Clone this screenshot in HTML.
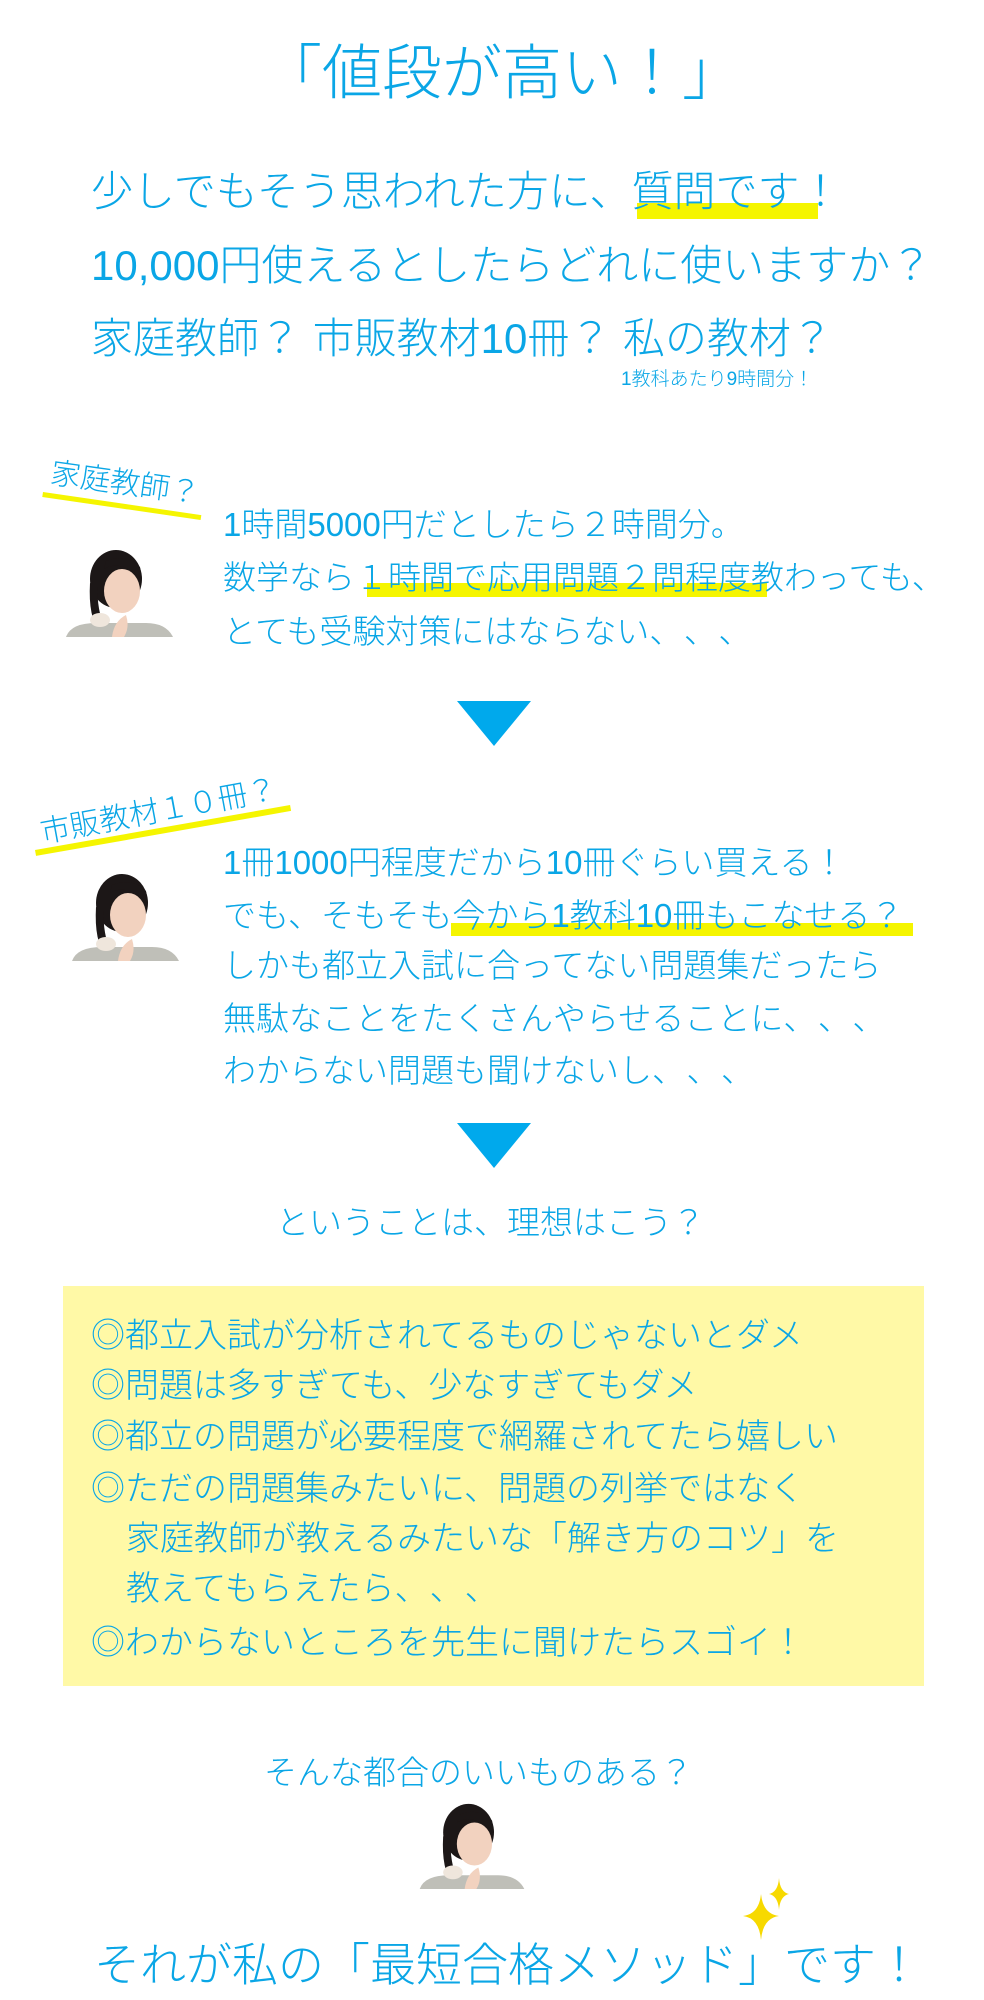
<!DOCTYPE html>
<html><head><meta charset="utf-8"><style>
html,body{margin:0;padding:0;background:#fff}
body{width:984px;height:2000px;position:relative;overflow:hidden;font-family:"Liberation Sans","Noto Sans CJK JP",sans-serif;color:#0aa6e6;font-weight:300}
.t{position:absolute;white-space:nowrap}
.hl{position:absolute;background:#f5f500}
.tri{position:absolute;width:0;height:0;border-left:37px solid transparent;border-right:37px solid transparent;border-top:45px solid #00a9ec}
svg.w{position:absolute}
.p{letter-spacing:18px}
</style></head><body>

<div class="t" style="left:262px;top:42px;font-size:60px;line-height:64px">「値段が高い！」</div>

<div class="hl" style="left:637px;top:203px;width:181px;height:16px"></div>
<div class="t" style="left:91px;top:170px;font-size:42px;line-height:44px">少しでもそう思われた方に、質問です！</div>
<div class="t" style="left:91px;top:244px;font-size:42px;line-height:44px">10,000円使えるとしたらどれに使いますか？</div>
<div class="t" style="left:91px;top:317px;font-size:42px;line-height:44px">家庭教師？ 市販教材10冊？ 私の教材？</div>
<div class="t" style="left:621px;top:369px;font-size:19px;line-height:22px">1教科あたり9時間分！</div>

<div class="hl" style="left:43px;top:492px;width:160px;height:5px;transform:rotate(8.3deg);transform-origin:0 0"></div>
<div class="t" style="left:53px;top:458px;font-size:30px;line-height:32px;transform:rotate(8deg);transform-origin:0 0">家庭教師？</div>

<svg class="w" style="left:66px;top:547px" width="107" height="90" viewBox="0 0 107 90"><ellipse cx="50" cy="32" rx="26" ry="29" fill="#1c1717"/><path d="M24 36 Q22 70 34 86 L40 86 Q30 60 32 40Z" fill="#1c1717"/><ellipse cx="56" cy="44" rx="18" ry="22" fill="#f2d2bf"/><path d="M38 22 Q55 12 76 32 L74 20 Q60 6 40 14Z" fill="#1c1717"/><path d="M0 90 Q5 76 30 76 L80 76 Q100 76 107 90Z" fill="#bfbfb8"/><ellipse cx="34" cy="73" rx="10" ry="7" fill="#efe6dc"/><path d="M46 90 Q48 74 60 68 Q64 80 58 90Z" fill="#f2d2bf"/></svg>

<div class="hl" style="left:367px;top:583px;width:400px;height:14px"></div>
<div class="t" style="left:223px;top:507px;font-size:33px;line-height:35px">1時間5000円だとしたら２時間分。</div>
<div class="t" style="left:223px;top:560px;font-size:33px;line-height:35px">数学なら１時間で応用問題２問程度教わっても、</div>
<div class="t" style="left:223px;top:614px;font-size:33px;line-height:35px">とても受験対策にはならない<span class="p">、、、</span></div>

<div class="tri" style="left:457px;top:701px"></div>

<div class="hl" style="left:35px;top:850px;width:259px;height:6px;transform:rotate(-10deg);transform-origin:0 0"></div>
<div class="t" style="left:38px;top:818px;font-size:30px;line-height:32px;transform:rotate(-10.5deg);transform-origin:0 0">市販教材１０冊？</div>

<svg class="w" style="left:72px;top:871px" width="107" height="90" viewBox="0 0 107 90"><ellipse cx="50" cy="32" rx="26" ry="29" fill="#1c1717"/><path d="M24 36 Q22 70 34 86 L40 86 Q30 60 32 40Z" fill="#1c1717"/><ellipse cx="56" cy="44" rx="18" ry="22" fill="#f2d2bf"/><path d="M38 22 Q55 12 76 32 L74 20 Q60 6 40 14Z" fill="#1c1717"/><path d="M0 90 Q5 76 30 76 L80 76 Q100 76 107 90Z" fill="#bfbfb8"/><ellipse cx="34" cy="73" rx="10" ry="7" fill="#efe6dc"/><path d="M46 90 Q48 74 60 68 Q64 80 58 90Z" fill="#f2d2bf"/></svg>

<div class="hl" style="left:451px;top:923px;width:462px;height:13px"></div>
<div class="t" style="left:223px;top:845px;font-size:33px;line-height:35px">1冊1000円程度だから10冊ぐらい買える！</div>
<div class="t" style="left:223px;top:898px;font-size:33px;line-height:35px">でも、そもそも今から1教科10冊もこなせる？</div>
<div class="t" style="left:223px;top:948px;font-size:33px;line-height:35px">しかも都立入試に合ってない問題集だったら</div>
<div class="t" style="left:223px;top:1001px;font-size:33px;line-height:35px">無駄なことをたくさんやらせることに<span class="p">、、、</span></div>
<div class="t" style="left:223px;top:1053px;font-size:33px;line-height:35px">わからない問題も聞けないし<span class="p">、、、</span></div>

<div class="tri" style="left:457px;top:1123px"></div>

<div class="t" style="left:276px;top:1205px;font-size:33px;line-height:35px">ということは、理想はこう？</div>

<div style="position:absolute;left:63px;top:1286px;width:861px;height:400px;background:#fff9a6"></div>
<div class="t" style="left:91px;top:1318px;font-size:34px;line-height:36px">◎都立入試が分析されてるものじゃないとダメ</div>
<div class="t" style="left:91px;top:1368px;font-size:34px;line-height:36px">◎問題は多すぎても、少なすぎてもダメ</div>
<div class="t" style="left:91px;top:1419px;font-size:34px;line-height:36px">◎都立の問題が必要程度で網羅されてたら嬉しい</div>
<div class="t" style="left:91px;top:1471px;font-size:34px;line-height:36px">◎ただの問題集みたいに、問題の列挙ではなく</div>
<div class="t" style="left:126px;top:1521px;font-size:34px;line-height:36px">家庭教師が教えるみたいな「解き方のコツ」を</div>
<div class="t" style="left:126px;top:1571px;font-size:34px;line-height:36px">教えてもらえたら<span class="p">、、、</span></div>
<div class="t" style="left:91px;top:1625px;font-size:34px;line-height:36px">◎わからないところを先生に聞けたらスゴイ！</div>

<div class="t" style="left:264px;top:1755px;font-size:33px;line-height:35px">そんな都合のいいものある？</div>

<svg class="w" style="left:417px;top:1801px" width="110" height="88" viewBox="0 0 107 90"><ellipse cx="50" cy="32" rx="26" ry="29" fill="#1c1717"/><path d="M24 36 Q22 70 34 86 L40 86 Q30 60 32 40Z" fill="#1c1717"/><ellipse cx="56" cy="44" rx="18" ry="22" fill="#f2d2bf"/><path d="M38 22 Q55 12 76 32 L74 20 Q60 6 40 14Z" fill="#1c1717"/><path d="M0 90 Q5 76 30 76 L80 76 Q100 76 107 90Z" fill="#bfbfb8"/><ellipse cx="34" cy="73" rx="10" ry="7" fill="#efe6dc"/><path d="M46 90 Q48 74 60 68 Q64 80 58 90Z" fill="#f2d2bf"/></svg>

<svg class="w" style="left:735px;top:1878px" width="70" height="75" viewBox="0 0 70 75"><path d="M26 16 Q28 36 44 38 Q28 40 26 62 Q24 40 8 38 Q24 36 26 16Z" fill="#f7d900"/><path d="M44 0 Q45 14 54 16 Q45 18 44 32 Q43 18 34 16 Q43 14 44 0Z" fill="#f7d900"/></svg>

<div class="t" style="left:94px;top:1940px;font-size:46px;line-height:50px">それが私の「最短合格メソッド」です！</div>

</body></html>
